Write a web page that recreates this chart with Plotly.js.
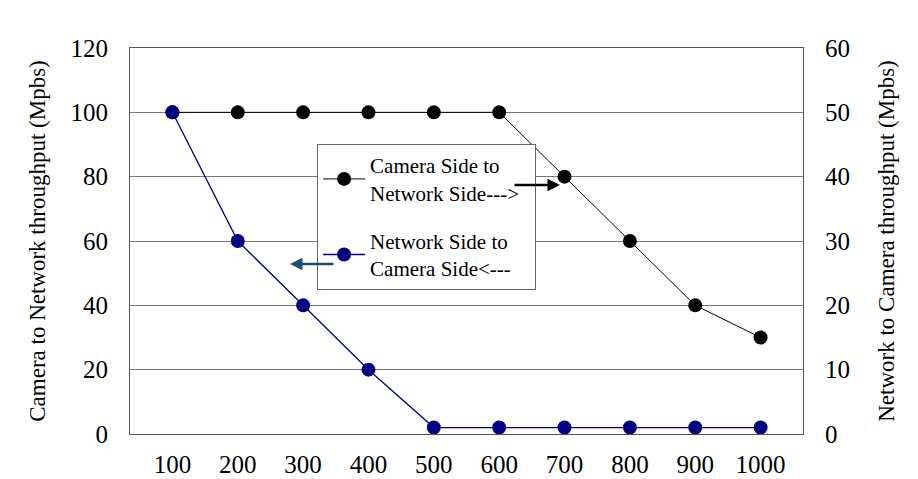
<!DOCTYPE html>
<html><head><meta charset="utf-8">
<script src="https://cdn.plot.ly/plotly-3.0.1.min.js"></script>
<style>body{margin:0;background:#fff}#c{width:918px;height:479px}</style>
</head><body><div id="c"></div>
<script>
var categories = ["100","200","300","400","500","600","700","800","900","1000"];
var cameraToNetwork = [100,100,100,100,100,100,80,60,40,30];
var networkToCamera = [50,30,20,10,1,1,1,1,1,1];
var leftTicks = [0,20,40,60,80,100,120];
var rightTicks = [0,10,20,30,40,50,60];

var F = "Liberation Serif, Times New Roman, serif";
var traces = [
  {x: categories, y: cameraToNetwork, type:'scatter', mode:'lines+markers',
   name:'Camera Side to<br>Network Side--->&nbsp;&nbsp;', legendgroup:'a',
   line:{color:'#000000', width:1}, marker:{color:'#000000', size:14}},
  {x: categories, y: networkToCamera, type:'scatter', mode:'lines+markers', yaxis:'y2',
   name:'Network Side to<br>Camera Side<---', legendgroup:'b',
   line:{color:'#000080', width:1.3}, marker:{color:'#000080', size:14}}
];
var layout = {
  width:918, height:479,
  margin:{l:130, r:115, t:48, b:45},
  paper_bgcolor:'#fff', plot_bgcolor:'#fff',
  font:{family:F, size:22, color:'#000'},
  showlegend:true,
  legend:{x:0.278, y:0.751, xanchor:'left', yanchor:'top', bgcolor:'#fff',
    bordercolor:'#666', borderwidth:1, font:{family:F, size:21, color:'#000'},
    tracegroupgap:18, itemwidth:42},
  xaxis:{type:'category', showgrid:false, zeroline:false, showline:true, linecolor:'#555', linewidth:1,
    mirror:true, ticks:'', ticklabelstandoff:8, tickfont:{family:F, size:25}},
  yaxis:{range:[0,120], tickvals:leftTicks, ticktext:leftTicks.map(String), showgrid:true, gridcolor:'#777', gridwidth:1,
    zeroline:false, showline:true, linecolor:'#555', ticks:'outside', ticklen:16, tickcolor:'rgba(0,0,0,0)', tickfont:{family:F,size:25},
    title:{text:'Camera to Network throughput (Mpbs)', font:{family:F,size:23}, standoff:18}},
  yaxis2:{range:[0,60], tickvals:rightTicks, ticktext:rightTicks.map(String), overlaying:'y', side:'right',
    showgrid:false, zeroline:false, showline:true, linecolor:'#555', ticks:'outside', ticklen:16, tickcolor:'rgba(0,0,0,0)', tickfont:{family:F,size:25},
    title:{text:'Network to Camera throughput (Mpbs)', font:{family:F,size:23}, standoff:28}},
  annotations:[
    {xref:'paper', yref:'paper', x:(560-130)/673, y:(434-185)/386, ax:-47, ay:0,
     showarrow:true, arrowhead:2, arrowsize:1, arrowwidth:2.5, arrowcolor:'#000', text:''},
    {xref:'paper', yref:'paper', x:(290-130)/673, y:(434-264)/386, ax:45, ay:0,
     showarrow:true, arrowhead:2, arrowsize:1, arrowwidth:2.5, arrowcolor:'#1F4E79', text:''}
  ]
};
Plotly.newPlot('c', traces, layout, {displayModeBar:false, staticPlot:true});
</script></body></html>
